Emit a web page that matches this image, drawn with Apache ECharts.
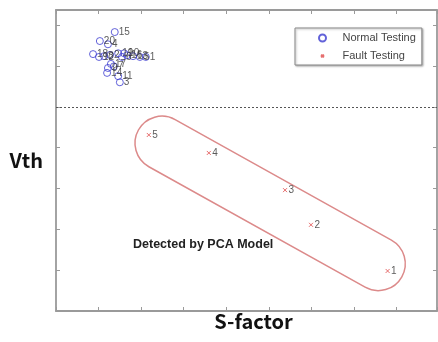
<!DOCTYPE html>
<html>
<head>
<meta charset="utf-8">
<script src="https://cdn.jsdelivr.net/npm/echarts@6/dist/echarts.min.js"></script>
<style>
  html, body { margin: 0; padding: 0; background: #fff; }
  #chart { width: 438px; height: 342px; }
</style>
</head>
<body>
<div id="chart"></div>
<script>
// normal testing samples: [S-factor, Vth, sample no.]
const normalData = [
  [1.38, 6.83, '15'],
  [1.03, 6.61, '20'],
  [1.22, 6.53, '4'],
  [0.87, 6.29, '18'],
  [1.01, 6.22, '12'],
  [1.13, 6.24, '8'],
  [1.27, 6.27, '2'],
  [1.46, 6.31, '19'],
  [1.60, 6.31, '10'],
  [1.67, 6.26, '16'],
  [1.55, 6.22, '6'],
  [1.81, 6.24, '13'],
  [1.97, 6.22, '5'],
  [2.11, 6.22, '1'],
  [1.29, 6.05, '17'],
  [1.22, 5.95, '9'],
  [1.20, 5.83, '14'],
  [1.36, 5.99, '7'],
  [1.46, 5.75, '11'],
  [1.50, 5.60, '3'],
]
// fault testing samples
const faultData = [
  [7.79, 0.98, '1'],
  [5.99, 2.11, '2'],
  [5.38, 2.96, '3'],
  [3.59, 3.87, '4'],
  [2.18, 4.31, '5'],
]
// detection band end centres (x1, y1, x2, y2)
const pcaBand = [2.49, 4.11, 7.57, 1.16]
const thresholdVth = 5
const xRange = [0, 8.95]
const yRange = [0, 7.37]

const axisGray = '#9a9a9a'
const crossPath = 'path://M0,0L10,10M10,0L0,10'
// same cross but with empty margin, so it looks small in the legend
const crossLegend = 'path://M0,0M3,3L7,7M7,3L3,7M10,10'

function frameAxis(pos, range) {
  return {
    type: 'value',
    position: pos,
    min: range[0],
    max: range[1],
    interval: 1,
    axisLine: { show: true, onZero: false, lineStyle: { color: axisGray, width: 1.8 } },
    axisTick: { show: true, inside: true, length: 4, lineStyle: { color: axisGray } },
    axisLabel: { show: false },
    splitLine: { show: false },
  }
}

const chart = echarts.init(document.getElementById('chart'))

let xMain = frameAxis('bottom', xRange)
xMain.name = 'S-factor'
xMain.nameLocation = 'middle'
xMain.nameGap = 0
xMain.nameTextStyle = { fontFamily: 'Noto Sans CJK KR', fontWeight: 'bold', fontSize: 20, color: '#111', padding: [0, 0, 0, 14] }

let yMain = frameAxis('left', yRange)
yMain.name = 'Vth'
yMain.nameLocation = 'middle'
yMain.nameRotate = 0
yMain.nameGap = 13
yMain.nameTextStyle = { fontFamily: 'Noto Sans CJK KR', fontWeight: 'bold', fontSize: 20, color: '#111', padding: [0, 0, 10, 0] }

let option = {
  animation: false,
  grid: { left: 56, top: 10, right: 1, bottom: 31 },
  xAxis: [xMain, frameAxis('top', xRange)],
  yAxis: [yMain, frameAxis('right', yRange)],
  legend: {
    left: 295,
    top: 28,
    orient: 'vertical',
    data: [
      { name: 'Normal Testing' },
      { name: 'Fault Testing', icon: crossLegend },
    ],
    itemWidth: 30,
    itemHeight: 7,
    itemGap: 4,
    padding: [3, 6, 2, 23],
    backgroundColor: '#fff',
    borderColor: '#888',
    borderWidth: 1,
    borderRadius: 0,
    shadowColor: 'rgba(0,0,0,0.3)',
    shadowBlur: 2,
    shadowOffsetX: 1,
    shadowOffsetY: 1,
    textStyle: { fontFamily: 'Liberation Sans', fontSize: 11, color: '#444', lineHeight: 14 },
  },
  graphic: [
    {
      type: 'text',
      left: 133,
      top: 238,
      style: {
        text: 'Detected by PCA Model',
        font: 'bold 12.5px "Liberation Sans"',
        fill: '#222',
      },
    },
  ],
  series: [
    {
      type: 'custom',
      name: 'PCA',
      data: [pcaBand],
      encode: { x: [0, 2], y: [1, 3] },
      silent: true,
      z: 1,
      renderItem: function (params, api) {
        let a = api.coord([api.value(0), api.value(1)])
        let b = api.coord([api.value(2), api.value(3)])
        let dx = b[0] - a[0]
        let dy = b[1] - a[1]
        let len = Math.sqrt(dx * dx + dy * dy)
        let r = 27
        return {
          type: 'rect',
          x: (a[0] + b[0]) / 2,
          y: (a[1] + b[1]) / 2,
          rotation: -Math.atan2(dy, dx),
          shape: { x: -len / 2 - r, y: -r, width: len + 2 * r, height: 2 * r, r: r },
          style: { fill: 'none', stroke: '#dc8a8a', lineWidth: 1.5 },
        }
      },
    },
    {
      type: 'scatter',
      name: 'Normal Testing',
      data: normalData,
      symbol: 'circle',
      symbolSize: 7,
      z: 3,
      itemStyle: { color: 'rgba(255,255,255,0)', borderColor: '#3b3bd0', borderWidth: 1 },
      label: {
        show: true,
        position: 'right',
        distance: 0,
        formatter: (p) => p.data[2],
        fontFamily: 'Liberation Sans',
        fontSize: 10,
        color: '#333',
      },
      markLine: {
        silent: true,
        symbol: 'none',
        label: { show: false },
        lineStyle: { color: '#555', type: [2, 2], width: 1 },
        data: [{ yAxis: thresholdVth }],
      },
    },
    {
      type: 'scatter',
      name: 'Fault Testing',
      data: faultData,
      symbol: crossPath,
      symbolSize: 4,
      z: 3,
      itemStyle: { color: 'rgba(255,255,255,0)', borderColor: '#e04a4a', borderWidth: 1 },
      label: {
        show: true,
        position: 'right',
        distance: 1,
        formatter: (p) => p.data[2],
        fontFamily: 'Liberation Sans',
        fontSize: 10,
        color: '#333',
      },
    },
  ],
}

chart.setOption(option)
</script>
</body>
</html>
